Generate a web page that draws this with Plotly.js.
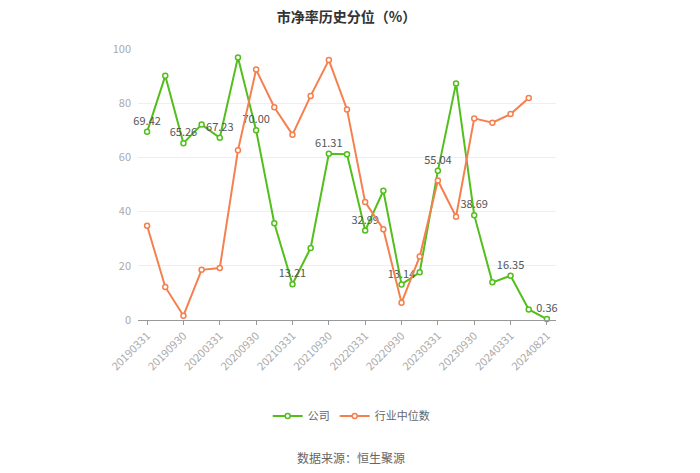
<!DOCTYPE html>
<html>
<head>
<meta charset="utf-8">
<script src="https://cdn.plot.ly/plotly-3.0.1.min.js"></script>
<style>html,body{margin:0;padding:0;background:#fff;}#chart{width:700px;height:473px;}</style>
</head>
<body>
<div id="chart"></div>
<script>
const categories = ["20190331","20190630","20190930","20191231","20200331","20200630","20200930","20201231","20210331","20210630","20210930","20211231","20220331","20220630","20220930","20221231","20230331","20230630","20230930","20231231","20240331","20240630","20240821"];
const companyValues = [69.42,90.1,65.26,72.1,67.23,96.9,70.00,35.7,13.21,26.6,61.31,61.2,32.99,47.7,13.14,17.6,55.04,87.3,38.69,13.9,16.35,3.9,0.36];
const industryValues = [34.8,12.2,1.6,18.5,19.2,62.6,92.4,78.5,68.4,82.7,95.9,77.7,43.5,33.5,6.4,23.4,51.5,38.1,74.4,72.8,76.0,81.9,null];
const tickLabels = ["20190331","20190930","20200331","20200930","20210331","20210930","20220331","20220930","20230331","20230930","20240331","20240821"];
const companyName = "公司";
const industryName = "行业中位数";

const green = "#52bf1c";
const orange = "#f5804f";
const labelText = companyValues.map((v,i)=> i % 2 === 0 ? v.toFixed(2) : "");

const traces = [
  {
    x: categories, y: companyValues, name: companyName, type: "scatter",
    mode: "lines+markers+text", text: labelText, textposition: "top center",
    textfont: {family: "Noto Sans CJK SC, sans-serif", size: 11, color: "#555"},
    line: {color: green, width: 2},
    marker: {symbol: "circle", size: 5, color: "#fff", line: {color: green, width: 1.5}},
    cliponaxis: false
  },
  {
    x: categories, y: industryValues, name: industryName, type: "scatter",
    mode: "lines+markers",
    line: {color: orange, width: 2},
    marker: {symbol: "circle", size: 5, color: "#fff", line: {color: orange, width: 1.5}},
    cliponaxis: false
  }
];

const layout = {
  width: 700, height: 473,
  margin: {l: 138, r: 144, t: 49, b: 153},
  paper_bgcolor: "#fff", plot_bgcolor: "#fff",
  font: {family: "Noto Sans CJK SC, sans-serif", color: "#999"},
  title: {text: "<b>市净率历史分位（%）</b>", x: 0.495, xanchor: "center", y: 0.975, yanchor: "top",
          font: {size: 14, color: "#333", family: "Noto Sans CJK SC, sans-serif"}},
  xaxis: {
    type: "category", range: [-0.5, 22.5],
    tickmode: "array", tickvals: tickLabels, ticktext: tickLabels,
    tickangle: -45, tickfont: {size: 11, color: "#aaa"},
    showgrid: false, showline: true, linecolor: "#999", linewidth: 1,
    ticks: "outside", ticklen: 4, tickcolor: "#999",
    zeroline: false, fixedrange: true
  },
  yaxis: {
    range: [0, 100], tickvals: [0,20,40,60,80,100],
    tickfont: {size: 11, color: "#aaa"},
    showgrid: true, gridcolor: "#eceef2", gridwidth: 1,
    showline: false, zeroline: false, ticks: "", ticklabelstandoff: 6
  },
  showlegend: true,
  legend: {orientation: "h", x: 0.51, xanchor: "center", y: -0.354, yanchor: "middle",
           font: {size: 11, color: "#666"}, itemwidth: 30, traceorder: "normal"},
  annotations: [
    {text: "数据来源：恒生聚源", xref: "paper", yref: "paper", x: 0.51, y: -0.506, xanchor: "center", yanchor: "middle",
     showarrow: false, font: {size: 12, color: "#666"}}
  ]
};

Plotly.newPlot("chart", traces, layout, {displayModeBar: false, staticPlot: true});
</script>
</body>
</html>
